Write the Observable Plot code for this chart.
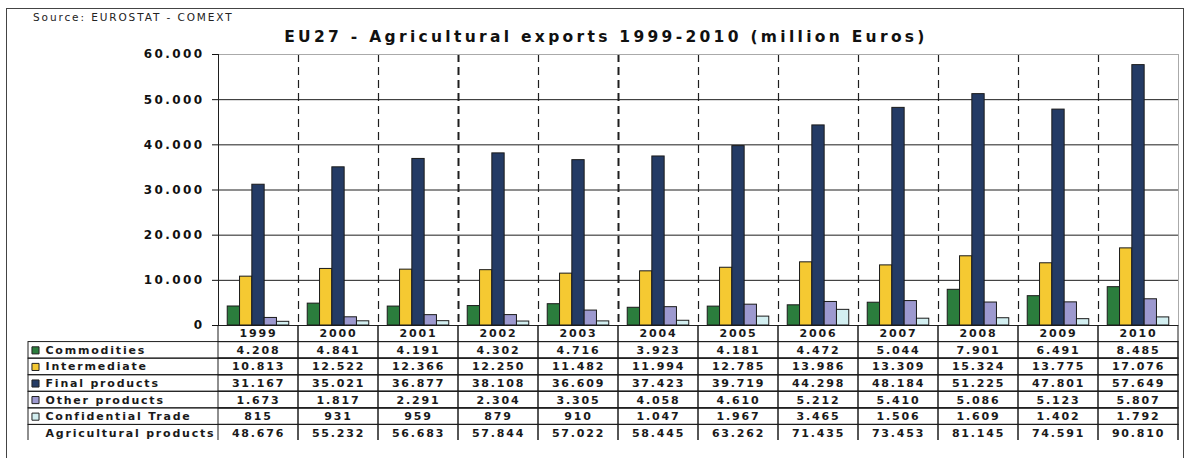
<!DOCTYPE html>
<html>
<head>
<meta charset="utf-8">
<script src="https://cdn.jsdelivr.net/npm/d3@7"></script>
<script src="https://cdn.jsdelivr.net/npm/@observablehq/plot@0.6"></script>
<style>
  html, body { margin: 0; padding: 0; background: #fff; }
  #page { position: relative; width: 1191px; height: 458px; overflow: hidden; background: #fff; }
  #frame { position: absolute; left: 6px; top: 8px; width: 1176px; height: 470px; border: 1px solid #444; }
  #source { position: absolute; left: 33px; top: 11px; font-family: "DejaVu Sans"; font-size: 10.5px; letter-spacing: 1.9px; color: #222; }
  #title { position: absolute; left: 0; width: 1212px; top: 28px; text-align: center; font-family: "DejaVu Sans"; font-weight: bold; font-size: 15.5px; letter-spacing: 3.3px; color: #111; }
  .layer { position: absolute; left: 0; }
  .layer svg { overflow: visible; }
  #table { height: 115px; overflow: hidden; }
</style>
</head>
<body>
<div id="page">
  <div id="frame"></div>
  <div id="source">Source: EUROSTAT - COMEXT</div>
  <div id="title">EU27 - Agricultural exports 1999-2010 (million Euros)</div>
  <div id="grid" class="layer" style="top:0"></div>
  <div id="bars" class="layer" style="top:0"></div>
  <div id="table" class="layer" style="top:325px"></div>
</div>
<script>
// ---- data ----
const years = ["1999","2000","2001","2002","2003","2004","2005","2006","2007","2008","2009","2010"];
const seriesNames = ["Commodities","Intermediate","Final products","Other products","Confidential Trade"];
const commodities  = [4208, 4841, 4191, 4302, 4716, 3923, 4181, 4472, 5044, 7901, 6491, 8485];
const intermediate = [10813, 12522, 12366, 12250, 11482, 11994, 12785, 13986, 13309, 15324, 13775, 17076];
const finalProducts = [31167, 35021, 36877, 38108, 36609, 37423, 39719, 44298, 48184, 51225, 47801, 57649];
const otherProducts = [1673, 1817, 2291, 2304, 3305, 4058, 4610, 5212, 5410, 5086, 5123, 5807];
const confidential = [815, 931, 959, 879, 910, 1047, 1967, 3465, 1506, 1609, 1402, 1792];
const totalLabel = "Agricultural products";
const totals = [48676, 55232, 56683, 57844, 57022, 58445, 63262, 71435, 73453, 81145, 74591, 90810];
const yTicks = [0, 10000, 20000, 30000, 40000, 50000, 60000];

const seriesValues = [commodities, intermediate, finalProducts, otherProducts, confidential];
const seriesColors = ["#2b7d3d", "#f5c932", "#243b65", "#9d99cf", "#d3eff1"];

const fmt = d3.formatLocale({decimal: ",", thousands: ".", grouping: [3], currency: ["", ""]}).format(",d");

const barData = years.flatMap((yr, i) => seriesNames.map((s, k) => ({year: yr, series: s, value: seriesValues[k][i]})));
const rowNames = [...seriesNames, totalLabel];
const tableCells = [
  ...years.map(yr => ({year: yr, row: "", label: yr})),
  ...years.flatMap((yr, i) => seriesNames.map((s, k) => ({year: yr, row: s, label: fmt(seriesValues[k][i])}))),
  ...years.map((yr, i) => ({year: yr, row: totalLabel, label: fmt(totals[i])}))
];

const W = 1191, H = 326, ML = 218, MR = 13, MT = 54, MB = 1;
const ink = "#1e1e1e";

// ---- grid / axis layer ----
const grid = Plot.plot({
  width: W, height: H, marginLeft: ML, marginRight: MR, marginTop: MT, marginBottom: MB,
  style: {background: "transparent", fontFamily: "DejaVu Sans", fontSize: "12px", fontWeight: "bold", letterSpacing: "2.4px", color: "#111"},
  x: {domain: [0, years.length], axis: null},
  y: {domain: [0, 60000], ticks: yTicks, tickFormat: fmt, tickSize: 6, tickPadding: 8, label: null},
  marks: [
    Plot.ruleY(yTicks.filter(t => t > 0 && t < 60000), {stroke: ink, strokeWidth: 1}),
    Plot.ruleX(d3.range(1, years.length), {stroke: ink, strokeDasharray: "8,5", strokeWidth: i => (i === 3 || i === 5) ? 2 : 1.2}),
    Plot.frame({stroke: "#aaa"}),
    Plot.ruleY([0], {stroke: ink}),
    Plot.ruleX([0], {stroke: ink})
  ]
});
document.getElementById("grid").append(grid);

// ---- bars layer ----
const bars = Plot.plot({
  width: W, height: H, marginLeft: ML, marginRight: MR, marginTop: MT, marginBottom: MB,
  style: {background: "transparent"},
  fx: {domain: years, padding: 0, axis: null, round: false},
  x: {domain: seriesNames, paddingInner: 0, paddingOuter: 0.75, axis: null, round: false},
  y: {domain: [0, 60000], axis: null},
  color: {domain: seriesNames, range: seriesColors},
  marks: [
    Plot.barY(barData, {fx: "year", x: "series", y: "value", fill: "series", stroke: "#1a1a1a", strokeWidth: 1})
  ]
});
document.getElementById("bars").append(bars);

// ---- table layer ----
const table = Plot.plot({
  width: W, height: 116, marginLeft: 28, marginRight: MR, marginTop: 0, marginBottom: 0,
  style: {background: "transparent", fontFamily: "DejaVu Sans", fontSize: "11px", fontWeight: "bold", letterSpacing: "1.8px", color: "#1a1a1a"},
  x: {domain: years, range: [ML, W - MR], padding: 0, axis: null, round: false},
  y: {domain: ["", ...rowNames], padding: 0, axis: null, round: false},
  color: {domain: seriesNames, range: seriesColors},
  marks: [
    Plot.cell(rowNames, {y: d => d, stroke: ink, fill: "none"}),
    Plot.cell(tableCells, {x: "year", y: "row", stroke: ink, fill: "none"}),
    Plot.dot(seriesNames, {y: d => d, frameAnchor: "left", dx: 7, symbol: "square", r: 4, fill: d => d, stroke: "#222", strokeWidth: 1}),
    Plot.text(rowNames, {y: d => d, frameAnchor: "left", textAnchor: "start", dx: 17, text: d => d}),
    Plot.text(tableCells, {x: "year", y: "row", text: "label"})
  ]
});
document.getElementById("table").append(table);
</script>
</body>
</html>
